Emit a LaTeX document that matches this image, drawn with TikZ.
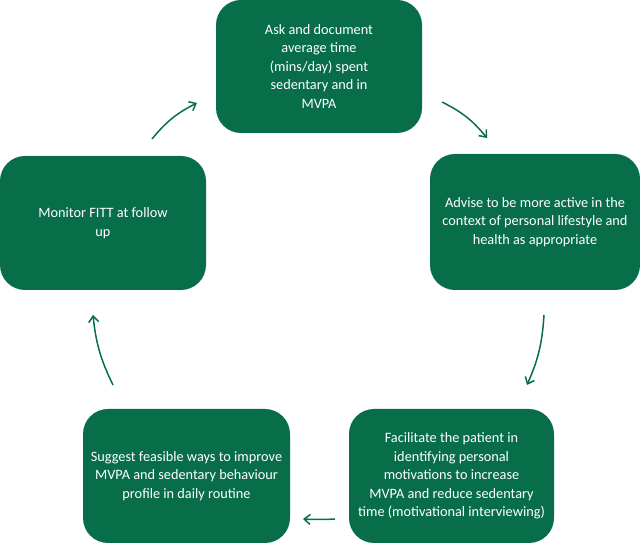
\documentclass[tikz,border=0pt]{standalone}
\usepackage{fontspec}
\setmainfont{Carlito}
\usetikzlibrary{arrows.meta}
\definecolor{cyclegreen}{RGB}{8,110,74}

\begin{document}
\begin{tikzpicture}[x=1pt, y=1pt, >={Straight Barb[length=6pt, width=10pt]},
  card/.style={fill=cyclegreen, rounded corners=25pt, text=white, align=center,
    font=\fontsize{14.3}{18.5}\selectfont, inner sep=0pt},
  flow/.style={->, cyclegreen, line width=1.5pt}]
  \useasboundingbox (0,0) rectangle (640,543);

  \node[card, minimum width=206pt, minimum height=133pt] (ask) at (319,476.5)
    {Ask and document\\average time\\(mins/day) spent\\sedentary and in\\MVPA};
  \node[card, minimum width=210pt, minimum height=136pt] (advise) at (535,321)
    {Advise to be more active in the\\context of personal lifestyle and\\health as appropriate};
  \node[card, minimum width=205pt, minimum height=134pt] (facilitate) at (451.5,67)
    {Facilitate the patient in\\identifying personal\\motivations to increase\\MVPA and reduce sedentary\\time (motivational interviewing)};
  \node[card, minimum width=207pt, minimum height=134pt] (suggest) at (186.5,67)
    {Suggest feasible ways to improve\\MVPA and sedentary behaviour\\profile in daily routine};
  \node[card, minimum width=206pt, minimum height=134pt] (monitor) at (103,320)
    {Monitor FITT at follow\\up};

  \coordinate (m1) at (152,404);
  \coordinate (a0) at (197,440);
  \coordinate (a1) at (442,441);
  \coordinate (d0) at (487,405);
  \coordinate (d1) at (544,228);
  \coordinate (f0) at (527,158);
  \coordinate (f1) at (335,24);
  \coordinate (s0) at (303,24);
  \coordinate (s1) at (113,158);
  \coordinate (m0) at (93,228);

  \draw[flow] (m1) to[bend left=12] (a0);
  \draw[flow] (a1) to[bend left=12] (d0);
  \draw[flow] (d1) to[bend left=10] (f0);
  \draw[flow] (f1) to[bend left=3] (s0);
  \draw[flow] (s1) to[bend left=10] (m0);
\end{tikzpicture}
\end{document}
